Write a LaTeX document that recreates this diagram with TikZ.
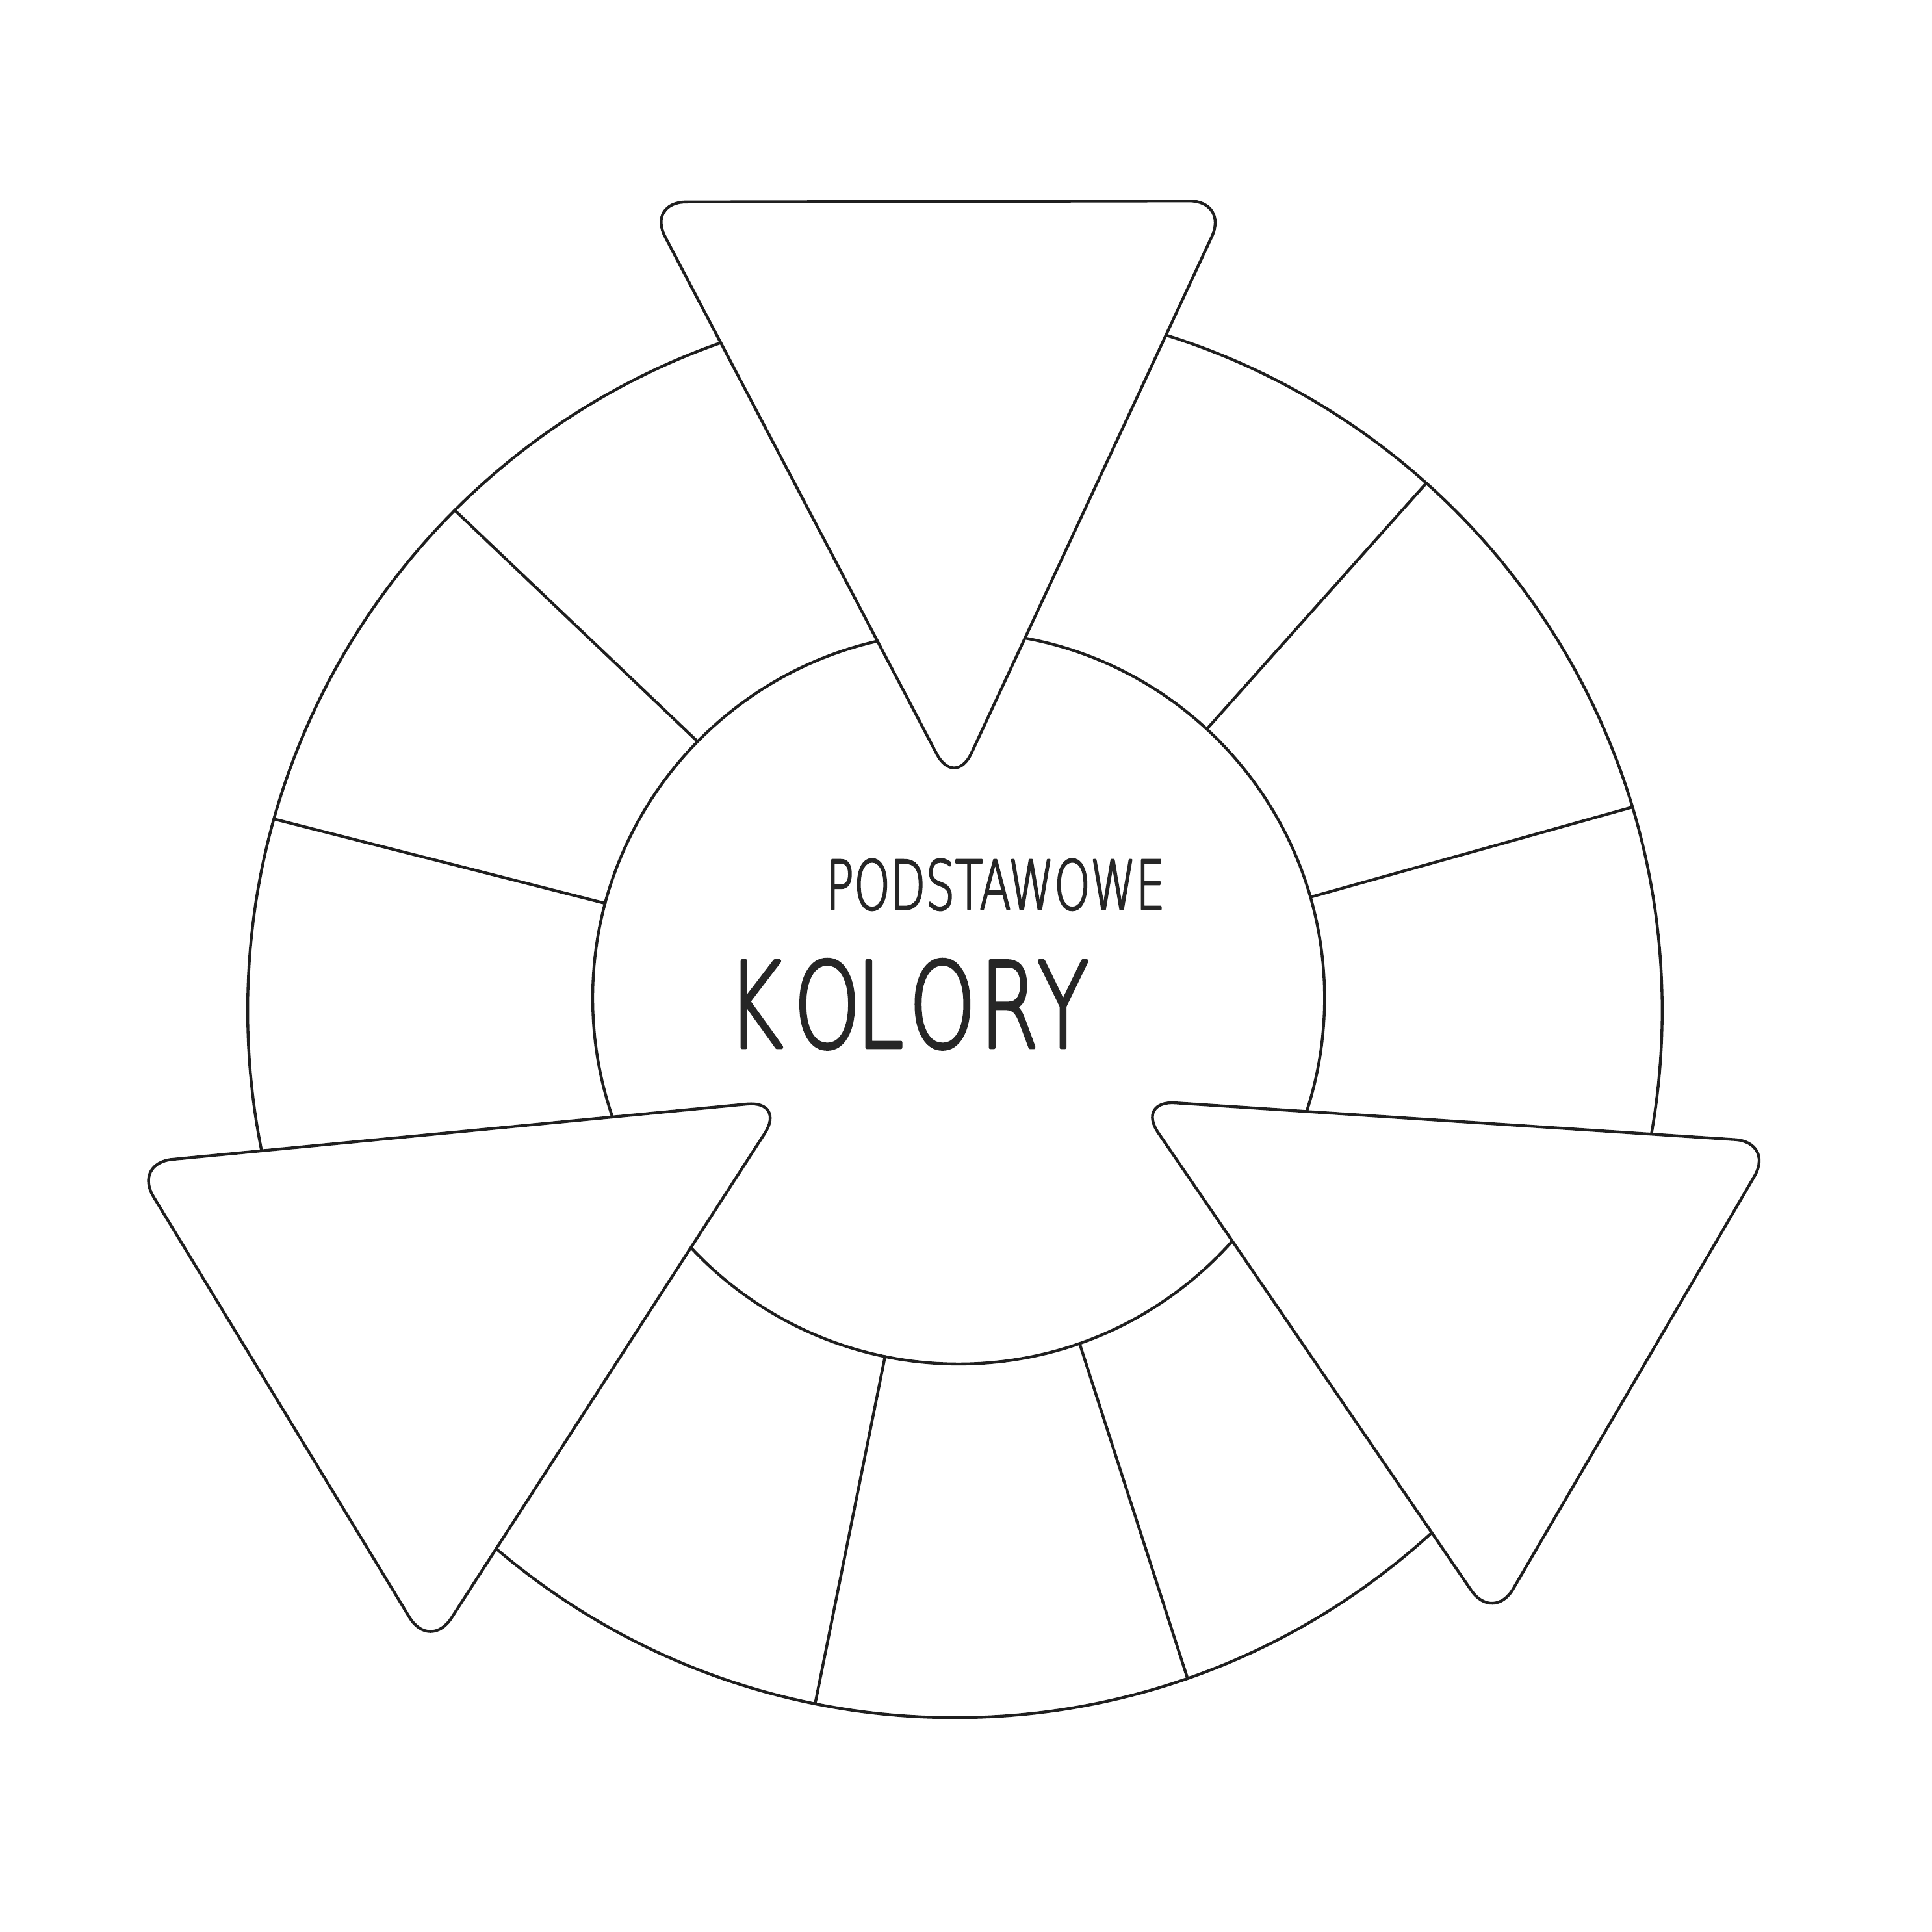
\documentclass[tikz,border=0pt]{standalone}
\usepackage{fontspec}
\usepackage{graphicx}
\usetikzlibrary{calc}
\newfontfamily\handfont{DejaVu Sans ExtraLight}[FakeBold=3]
\begin{document}
\begin{tikzpicture}[x=1pt,y=-1pt, line join=round, line cap=round,
  ink/.style={draw=black!88, line width=2.3pt},
  tri/.style={ink, fill=white, rounded corners=32pt},
  seg/.style={ink},
  lab/.style={inner sep=0pt, text=black!85}]
\useasboundingbox[fill=white] (0,0) rectangle (1568,1568);
\coordinate (O) at (775,820);
\coordinate (I) at (778,810);
\draw[ink] (O) circle[radius=574pt];
\draw[ink] (I) circle[radius=297pt];
\foreach \a/\b [count=\i] in {135/135.5,164.3/165,48.2/47.3,16.7/16,258.6/258.4,289.2/289.3}{
  \coordinate (o\i) at ($(O)+(\a:574pt)$);
  \coordinate (n\i) at ($(I)+(\b:297pt)$);
  \draw[seg] (o\i) -- (n\i);
}
\draw[tri] (525,164) -- (997,163) -- (775,640) -- cycle;
\draw[tri] (108,944) -- (638,893) -- (349,1340) -- cycle;
\draw[tri] (922,893) -- (1440,927) -- (1212,1317) -- cycle;
\node[lab] (podst) at (808,718) {\scalebox{0.68}[1]{\handfont\fontsize{55}{60}\selectfont PODSTAWOWE}};
\node[lab] (kolory) at (737,815) {\scalebox{0.72}[1]{\handfont\fontsize{96}{100}\selectfont K\kern12ptO\kern-5ptL\kern6ptO\kern4ptR\kern-2ptY}};
\end{tikzpicture}
\end{document}
